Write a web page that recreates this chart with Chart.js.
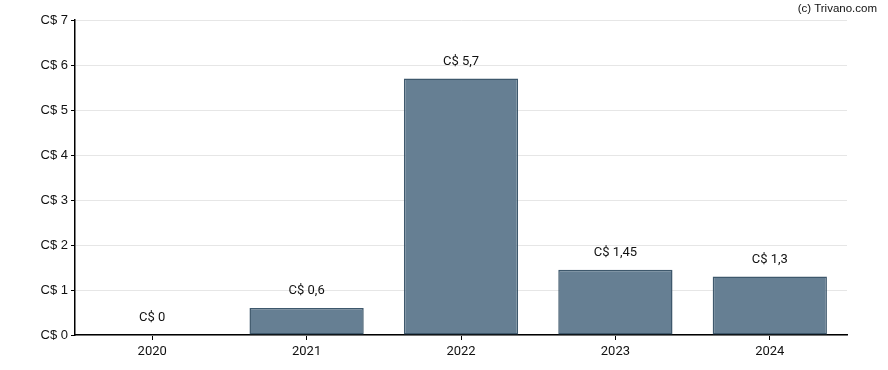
<!DOCTYPE html>
<html>
<head>
<meta charset="utf-8">
<script src="https://cdn.jsdelivr.net/npm/chart.js@4/dist/chart.umd.min.js"></script>
<style>
  html, body { margin: 0; padding: 0; background: #fff; }
  #wrap { position: relative; width: 888px; height: 370px; }
  #credit { position: absolute; right: 11px; top: 2px; font: 11.5px "Liberation Sans", Arial, sans-serif; color: #111; }
</style>
</head>
<body>
<div id="wrap">
  <canvas id="divChart" width="888" height="370"></canvas>
  <div id="credit">(c) Trivano.com</div>
</div>
<script>
// dividend per year, in C$
const years = ['2020', '2021', '2022', '2023', '2024'];
const dividends = [0, 0.6, 5.7, 1.45, 1.3];
const yTicks = [0, 1, 2, 3, 4, 5, 6, 7];

function fmt(v) {
    return 'C$ ' + String(v).replace('.', ',');
}

// draws the value above each bar
const valueLabels = {
    id: 'valueLabels',
    afterDatasetsDraw(chart) {
        const ctx = chart.ctx;
        const meta = chart.getDatasetMeta(0);
        ctx.save();
        ctx.font = '13px Roboto, sans-serif';
        ctx.fillStyle = '#111';
        ctx.textAlign = 'center';
        ctx.textBaseline = 'middle';
        meta.data.forEach((bar, i) => {
            ctx.fillText(fmt(dividends[i]), bar.x, bar.y - 17);
        });
        ctx.restore();
    }
};

const ctx = document.getElementById('divChart').getContext('2d');
new Chart(ctx, {
    type: 'bar',
    data: {
        labels: years,
        datasets: [{
            data: dividends,
            backgroundColor: '#667f93',
            borderColor: '#3e586c',
            borderWidth: 1.5,
            borderSkipped: false,
            categoryPercentage: 0.74,
            barPercentage: 1
        }]
    },
    options: {
        responsive: false,
        animation: false,
        layout: { padding: { left: 0, right: 41, top: 20, bottom: 0 } },
        plugins: { legend: { display: false }, tooltip: { enabled: false } },
        scales: {
            x: {
                afterFit: s => { s.height = 35; },
                grid: { offset: false, drawOnChartArea: false, drawTicks: true, tickLength: 5, color: '#000', tickColor: '#000' },
                border: { color: '#000', width: 1.5 },
                ticks: { color: '#111', font: { family: 'Roboto', size: 13 }, padding: 4 }
            },
            y: {
                min: 0,
                max: 7,
                afterFit: s => { s.width = 75; },
                afterBuildTicks: s => { s.ticks = yTicks.map(v => ({ value: v })); },
                grid: { color: '#e6e6e6', tickColor: '#000', tickLength: 4 },
                border: { color: '#000', width: 1.5 },
                ticks: {
                    color: '#111',
                    font: { family: 'Liberation Sans', size: 13 },
                    padding: 3,
                    callback: v => fmt(v)
                }
            }
        }
    },
    plugins: [valueLabels]
});
</script>
</body>
</html>
